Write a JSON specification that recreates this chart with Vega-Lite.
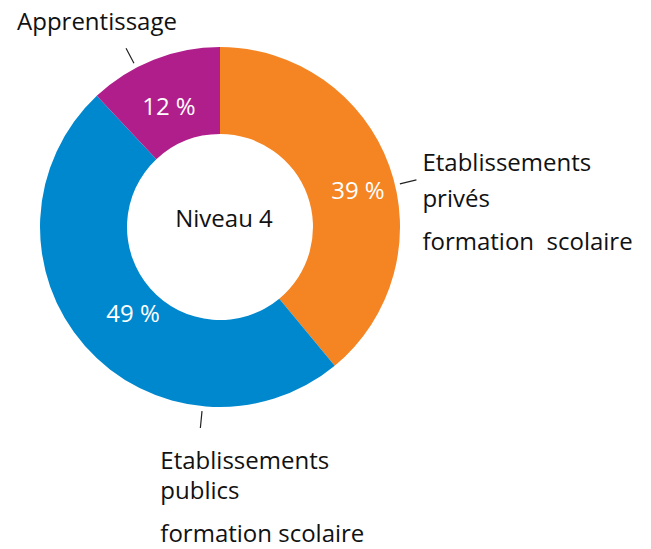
{
  "$schema": "https://vega.github.io/schema/vega-lite/v6.json",
  "width": 440,
  "height": 454,
  "padding": 0,
  "autosize": {"type": "pad"},
  "background": "white",
  "config": {"view": {"stroke": null}, "text": {"font": "Open Sans"}},
  "datasets": {
    "parts": [
      {"categorie": "Etablissements privés formation scolaire", "pct": 39, "label": "39 %", "ord": 1},
      {"categorie": "Etablissements publics formation scolaire", "pct": 49, "label": "49 %", "ord": 2},
      {"categorie": "Apprentissage", "pct": 12, "label": "12 %", "ord": 3}
    ],
    "annotations": [
      {"categorie": "Etablissements privés formation scolaire", "ang": 21.25, "ligne1": ["Etablissements", "privés"], "ligne2": "formation\u00a0 scolaire"},
      {"categorie": "Etablissements publics formation scolaire", "ang": 51.55, "ligne1": ["Etablissements", "publics"], "ligne2": "formation scolaire"},
      {"categorie": "Apprentissage", "ang": 92.3, "ligne1": "Apprentissage", "ligne2": ""}
    ],
    "centre": [{"titre": "Niveau 4", "ang": 0}]
  },
  "layer": [
    {
      "data": {"name": "parts"},
      "mark": {"type": "arc", "radius": 180, "radius2": 93},
      "encoding": {
        "theta": {"field": "pct", "type": "quantitative", "stack": true, "scale": {"domain": [0, 100]}},
        "order": {"field": "ord", "type": "quantitative"},
        "color": {
          "field": "categorie", "type": "nominal", "legend": null,
          "scale": {
            "domain": ["Etablissements privés formation scolaire", "Etablissements publics formation scolaire", "Apprentissage"],
            "range": ["#F58423", "#0088CE", "#B01E8C"]
          }
        }
      }
    },
    {
      "data": {"name": "parts"},
      "mark": {"type": "text", "radius": 136, "fontSize": 24, "color": "white", "align": "center", "baseline": "alphabetic", "dx": 10, "dy": 18},
      "encoding": {
        "theta": {"field": "pct", "type": "quantitative", "stack": true},
        "order": {"field": "ord", "type": "quantitative"},
        "text": {"condition": {"test": "datum.ord == 1", "field": "label"}, "value": ""}
      }
    },
    {
      "data": {"name": "parts"},
      "mark": {"type": "text", "radius": 136, "fontSize": 24, "color": "white", "align": "center", "baseline": "alphabetic", "dx": 15, "dy": 5},
      "encoding": {
        "theta": {"field": "pct", "type": "quantitative", "stack": true},
        "order": {"field": "ord", "type": "quantitative"},
        "text": {"condition": {"test": "datum.ord == 2", "field": "label"}, "value": ""}
      }
    },
    {
      "data": {"name": "parts"},
      "mark": {"type": "text", "radius": 136, "fontSize": 24, "color": "white", "align": "center", "baseline": "alphabetic", "dx": -1, "dy": 14},
      "encoding": {
        "theta": {"field": "pct", "type": "quantitative", "stack": true},
        "order": {"field": "ord", "type": "quantitative"},
        "text": {"condition": {"test": "datum.ord == 3", "field": "label"}, "value": ""}
      }
    },
    {
      "data": {"name": "annotations"},
      "mark": {"type": "arc", "radius": 185, "radius2": 202, "stroke": "#222222", "strokeWidth": 1.2, "fill": "#222222"},
      "encoding": {
        "theta": {"field": "ang", "type": "quantitative"},
        "theta2": {"field": "ang"}
      }
    },
    {
      "data": {"name": "annotations"},
      "transform": [{"filter": "datum.categorie == 'Apprentissage'"}],
      "mark": {"type": "text", "radius": 202, "fontSize": 24, "color": "#111111", "align": "left", "baseline": "alphabetic", "dx": -109, "dy": -18},
      "encoding": {
        "theta": {"field": "ang", "type": "quantitative"},
        "text": {"field": "ligne1"}
      }
    },
    {
      "data": {"name": "annotations"},
      "transform": [{"filter": "datum.categorie == 'Etablissements privés formation scolaire'"}],
      "mark": {"type": "text", "radius": 202, "fontSize": 24, "color": "#111111", "align": "left", "baseline": "alphabetic", "dx": 6, "dy": -9, "lineHeight": 36},
      "encoding": {
        "theta": {"field": "ang", "type": "quantitative"},
        "text": {"field": "ligne1"}
      }
    },
    {
      "data": {"name": "annotations"},
      "transform": [{"filter": "datum.categorie == 'Etablissements privés formation scolaire'"}],
      "mark": {"type": "text", "radius": 202, "fontSize": 24, "color": "#111111", "align": "left", "baseline": "alphabetic", "dx": 6, "dy": 70},
      "encoding": {
        "theta": {"field": "ang", "type": "quantitative"},
        "text": {"field": "ligne2"}
      }
    },
    {
      "data": {"name": "annotations"},
      "transform": [{"filter": "datum.categorie == 'Etablissements publics formation scolaire'"}],
      "mark": {"type": "text", "radius": 202, "fontSize": 24, "color": "#111111", "align": "left", "baseline": "alphabetic", "dx": -40, "dy": 41, "lineHeight": 30},
      "encoding": {
        "theta": {"field": "ang", "type": "quantitative"},
        "text": {"field": "ligne1"}
      }
    },
    {
      "data": {"name": "annotations"},
      "transform": [{"filter": "datum.categorie == 'Etablissements publics formation scolaire'"}],
      "mark": {"type": "text", "radius": 202, "fontSize": 24, "color": "#111111", "align": "left", "baseline": "alphabetic", "dx": -40, "dy": 114},
      "encoding": {
        "theta": {"field": "ang", "type": "quantitative"},
        "text": {"field": "ligne2"}
      }
    },
    {
      "data": {"name": "centre"},
      "mark": {"type": "text", "radius": 0, "fontSize": 24, "color": "#111111", "align": "center", "baseline": "alphabetic", "dx": 4, "dy": 0},
      "encoding": {
        "theta": {"field": "ang", "type": "quantitative"},
        "text": {"field": "titre"}
      }
    }
  ]
}
